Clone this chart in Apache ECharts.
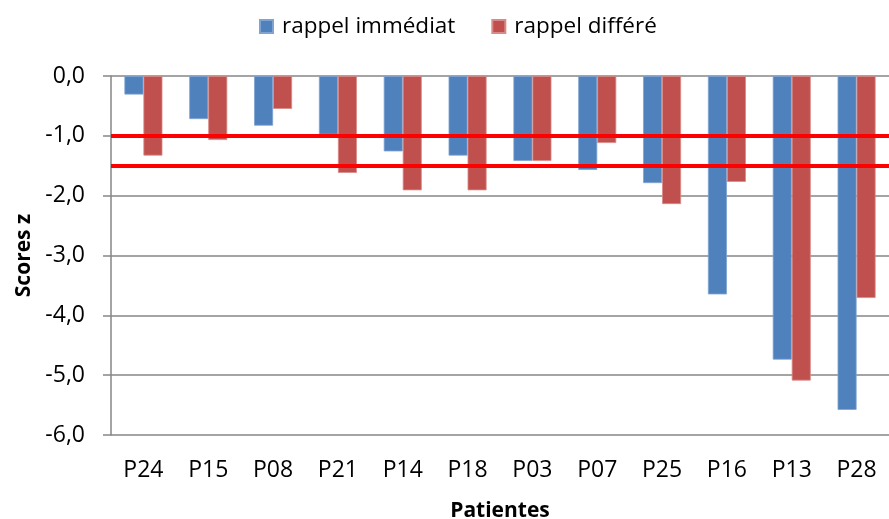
<!DOCTYPE html>
<html>
<head>
<meta charset="utf-8">
<script src="https://cdn.jsdelivr.net/npm/echarts@6/dist/echarts.min.js"></script>
<style>
html,body{margin:0;padding:0;background:#fff;}
#chart{width:889px;height:519px;}
</style>
</head>
<body>
<div id="chart"></div>
<script>
const categories = ['P24','P15','P08','P21','P14','P18','P03','P07','P25','P16','P13','P28'];
const rappelImmediat = [-0.31,-0.72,-0.83,-0.98,-1.26,-1.33,-1.42,-1.57,-1.79,-3.65,-4.74,-5.58];
const rappelDiffere = [-1.33,-1.07,-0.55,-1.62,-1.91,-1.91,-1.42,-1.12,-2.14,-1.77,-5.09,-3.71];
const thresholds = [-1.0,-1.5];
const seriesNames = ['rappel immédiat','rappel différé'];

const FONT = '"Open Sans", sans-serif';
const chart = echarts.init(document.getElementById('chart'), null, {renderer:'canvas'});
chart.setOption({
  animation:false,
  textStyle:{fontFamily:FONT},
  legend:{
    top:10,
    left:254,
    itemWidth:13,
    itemHeight:13,
    itemGap:36,
    icon:'rect',
    textStyle:{fontFamily:FONT,fontSize:22.5,color:'#000',padding:[0,0,0,4]},
    data:seriesNames
  },
  grid:{left:111,right:0,top:76,bottom:84,containLabel:false,outerBoundsMode:'none'},
  xAxis:{
    type:'category',
    data:categories,
    name:'Patientes',
    nameLocation:'middle',
    nameGap:66,
    nameTextStyle:{fontFamily:FONT,fontSize:21,fontWeight:'bold',color:'#000'},
    axisLine:{show:false},
    axisTick:{show:false},
    axisLabel:{fontFamily:FONT,fontSize:23,color:'#000',margin:24}
  },
  yAxis:{
    type:'value',
    min:-6,max:0,interval:1,
    name:'Scores z',
    nameLocation:'middle',
    nameGap:76,
    nameTextStyle:{fontFamily:FONT,fontSize:21,fontWeight:'bold',color:'#000'},
    axisLine:{show:true,lineStyle:{color:'#868686',width:1.5}},
    axisTick:{show:true,length:8,lineStyle:{color:'#868686',width:1.5}},
    axisLabel:{fontFamily:FONT,fontSize:23,color:'#000',margin:26,
      formatter:v=>v.toFixed(1).replace('.',',')},
    splitLine:{show:true,lineStyle:{color:'#868686',width:1.5}}
  },
  series:[
    {
      name:seriesNames[0],type:'bar',data:rappelImmediat,
      barWidth:19,barGap:'0%',
      itemStyle:{color:'#4F81BD',borderColor:'#7FA3D3',borderWidth:0.8},
      markLine:{
        silent:true,symbol:'none',
        label:{show:false},
        lineStyle:{color:'#FF0000',width:4,type:'solid'},
        data:thresholds.map(t=>({yAxis:t}))
      },
      z:2
    },
    {
      name:seriesNames[1],type:'bar',data:rappelDiffere,
      barWidth:19,barGap:'0%',
      itemStyle:{color:'#C0504D',borderColor:'#D98A88',borderWidth:0.8},
      z:2
    }
  ]
});
</script>
</body>
</html>
